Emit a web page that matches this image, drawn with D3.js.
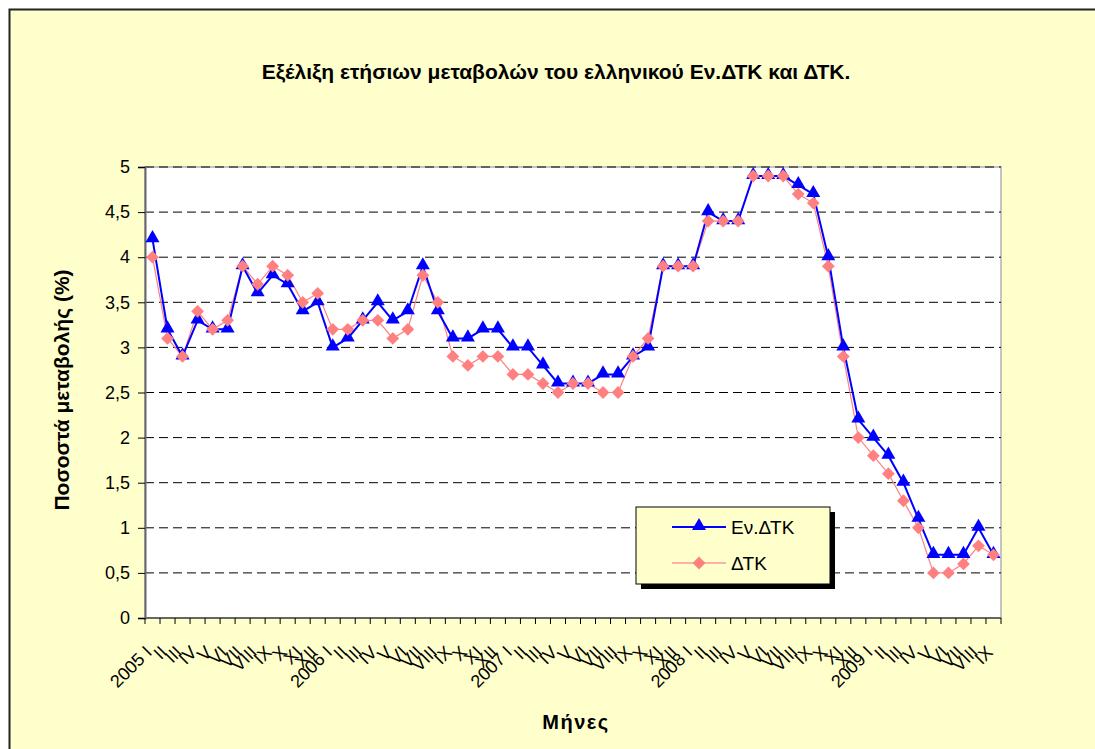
<!DOCTYPE html>
<html>
<head>
<meta charset="utf-8">
<script src="https://cdn.jsdelivr.net/npm/d3@7"></script>
<style>
  body { margin: 0; background: #fff; }
  svg { display: block; font-family: "Liberation Sans", Arial, sans-serif; }
</style>
</head>
<body>
<div id="chart"></div>
<script>
// data
const years = [2005, 2006, 2007, 2008, 2009];
const romanMonths = ['I', 'II', 'III', 'IV', 'V', 'VI', 'VII', 'VIII', 'IX', 'X', 'XI', 'XII'];
// Εν.ΔΤΚ (HICP) yearly change, 2005 I .. 2009 IX
const hicp = [
    4.2, 3.2, 2.9, 3.3, 3.2, 3.2, 3.9, 3.6, 3.8, 3.7, 3.4, 3.5,
    3.0, 3.1, 3.3, 3.5, 3.3, 3.4, 3.9, 3.4, 3.1, 3.1, 3.2, 3.2,
    3.0, 3.0, 2.8, 2.6, 2.6, 2.6, 2.7, 2.7, 2.9, 3.0, 3.9, 3.9,
    3.9, 4.5, 4.4, 4.4, 4.9, 4.9, 4.9, 4.8, 4.7, 4.0, 3.0, 2.2,
    2.0, 1.8, 1.5, 1.1, 0.7, 0.7, 0.7, 1.0, 0.7
];
// ΔΤΚ (CPI)
const cpi = [
    4.0, 3.1, 2.9, 3.4, 3.2, 3.3, 3.9, 3.7, 3.9, 3.8, 3.5, 3.6,
    3.2, 3.2, 3.3, 3.3, 3.1, 3.2, 3.8, 3.5, 2.9, 2.8, 2.9, 2.9,
    2.7, 2.7, 2.6, 2.5, 2.6, 2.6, 2.5, 2.5, 2.9, 3.1, 3.9, 3.9,
    3.9, 4.4, 4.4, 4.4, 4.9, 4.9, 4.9, 4.7, 4.6, 3.9, 2.9, 2.0,
    1.8, 1.6, 1.3, 1.0, 0.5, 0.5, 0.6, 0.8, 0.7
];
const yTicks = [0, 0.5, 1, 1.5, 2, 2.5, 3, 3.5, 4, 4.5, 5];
const seriesNames = ['Εν.ΔΤΚ', 'ΔΤΚ'];

// month labels: "2005 I", "II", ... up to the last month we have
const labels = hicp.map((d, i) => {
    const m = i % 12;
    return m === 0 ? years[Math.floor(i / 12)] + ' ' + romanMonths[m] : romanMonths[m];
});

const width = 1095, height = 749;
const margin = { top: 167, right: 94, bottom: 131, left: 145 };
const plotW = width - margin.left - margin.right;
const plotH = height - margin.top - margin.bottom;

const svg = d3.select('#chart').append('svg')
    .attr('width', width)
    .attr('height', height);

// chart background
svg.append('rect')
    .attr('x', 9.5).attr('y', 9.5)
    .attr('width', width + 10).attr('height', height + 10)
    .attr('fill', '#FFFFCC')
    .attr('stroke', '#222')
    .attr('stroke-width', 2);

svg.append('text')
    .attr('x', 556).attr('y', 79)
    .attr('text-anchor', 'middle')
    .attr('font-size', 21)
    .attr('font-weight', 'bold')
    .text('Εξέλιξη ετήσιων μεταβολών του ελληνικού Εν.ΔΤΚ και ΔΤΚ.');

const chart = svg.append('g')
    .attr('transform', `translate(${margin.left}, ${margin.top})`);

// plot area
chart.append('rect')
    .attr('width', plotW).attr('height', plotH)
    .attr('fill', '#fff')
    .attr('stroke', '#c4c4c4')
    .attr('stroke-width', 2);

const xScale = d3.scaleBand().domain(d3.range(hicp.length)).range([0, plotW]);
const yScale = d3.scaleLinear().domain([0, 5]).range([plotH, 0]);
const cx = i => xScale(i) + xScale.bandwidth() / 2;

// grid lines
chart.append('g')
    .selectAll('line')
    .data(yTicks.filter(d => d > 0))
    .enter().append('line')
    .attr('x1', 0).attr('x2', plotW)
    .attr('y1', d => yScale(d)).attr('y2', d => yScale(d))
    .attr('stroke', '#000')
    .attr('stroke-dasharray', '9,5');

// y axis
const yAxis = chart.append('g')
    .attr('class', 'axis axis-y')
    .call(d3.axisLeft(yScale).tickValues(yTicks).tickSize(7).tickPadding(8)
        .tickFormat(d => String(d).replace('.', ',')));
yAxis.select('.domain').attr('stroke', '#666').attr('stroke-width', 2);
yAxis.selectAll('.tick line').attr('stroke', '#000');
yAxis.selectAll('.tick text').attr('font-size', 18).attr('fill', '#000');

// x axis: tick marks between categories
const xAxis = chart.append('g')
    .attr('class', 'axis axis-x')
    .attr('transform', `translate(0, ${plotH})`);
xAxis.append('line')
    .attr('x1', 0).attr('x2', plotW)
    .attr('stroke', '#666').attr('stroke-width', 2);
xAxis.selectAll('.tickmark')
    .data(d3.range(hicp.length + 1))
    .enter().append('line')
    .attr('class', 'tickmark')
    .attr('x1', i => i < hicp.length ? xScale(i) : plotW)
    .attr('x2', i => i < hicp.length ? xScale(i) : plotW)
    .attr('y1', 0).attr('y2', 6)
    .attr('stroke', '#000');
xAxis.selectAll('.label')
    .data(labels)
    .enter().append('text')
    .attr('class', 'label')
    .attr('transform', (d, i) => `translate(${cx(i) - 4}, 31) rotate(-45)`)
    .attr('text-anchor', 'end')
    .attr('dy', '0.35em')
    .attr('font-size', 18)
    .text(d => d);

// axis titles
svg.append('text')
    .attr('transform', 'translate(69, 390) rotate(-90)')
    .attr('text-anchor', 'middle')
    .attr('font-size', 21)
    .attr('font-weight', 'bold')
    .text('Ποσοστά μεταβολής (%)');

svg.append('text')
    .attr('x', 576).attr('y', 729)
    .attr('text-anchor', 'middle')
    .attr('font-size', 20)
    .attr('font-weight', 'bold')
    .attr('letter-spacing', 1.5)
    .text('Μήνες');

// lines
const line = d3.line().x((d, i) => cx(i)).y(d => yScale(d));
chart.append('path')
    .datum(cpi)
    .attr('fill', 'none')
    .attr('stroke', '#FF8080')
    .attr('stroke-width', 1.2)
    .attr('d', line);
chart.append('path')
    .datum(hicp)
    .attr('fill', 'none')
    .attr('stroke', '#0000FF')
    .attr('stroke-width', 2)
    .attr('d', line);

// markers
const tri = d3.symbol().type(d3.symbolTriangle).size(85);
const dia = d3.symbol().type(d3.symbolSquare).size(82);
chart.append('g').selectAll('path')
    .data(hicp)
    .enter().append('path')
    .attr('transform', (d, i) => `translate(${cx(i)}, ${yScale(d) - 1})`)
    .attr('d', tri)
    .attr('fill', '#0000FF');
chart.append('g').selectAll('path')
    .data(cpi)
    .enter().append('path')
    .attr('transform', (d, i) => `translate(${cx(i)}, ${yScale(d)}) rotate(45)`)
    .attr('d', dia)
    .attr('fill', '#FF8080');

// legend
const legend = svg.append('g').attr('transform', 'translate(636, 507)');
legend.append('rect')
    .attr('x', 5).attr('y', 5)
    .attr('width', 194).attr('height', 77)
    .attr('fill', '#000');
legend.append('rect')
    .attr('width', 194).attr('height', 77)
    .attr('fill', '#FFFFCC')
    .attr('stroke', '#000');
const entries = legend.selectAll('.entry')
    .data(seriesNames)
    .enter().append('g')
    .attr('class', 'entry')
    .attr('transform', (d, i) => `translate(0, ${20 + i * 36})`);
entries.append('line')
    .attr('x1', 36).attr('x2', 90)
    .attr('stroke', (d, i) => i === 0 ? '#0000FF' : '#FFB0A8')
    .attr('stroke-width', 2);
entries.append('path')
    .attr('transform', (d, i) => i === 0 ? 'translate(63, -1)' : 'translate(63, 0) rotate(45)')
    .attr('d', (d, i) => i === 0 ? tri() : dia())
    .attr('fill', (d, i) => i === 0 ? '#0000FF' : '#FF8080');
entries.append('text')
    .attr('x', 95)
    .attr('dy', '0.35em')
    .attr('font-size', 19)
    .text(d => d);
</script>
</body>
</html>
